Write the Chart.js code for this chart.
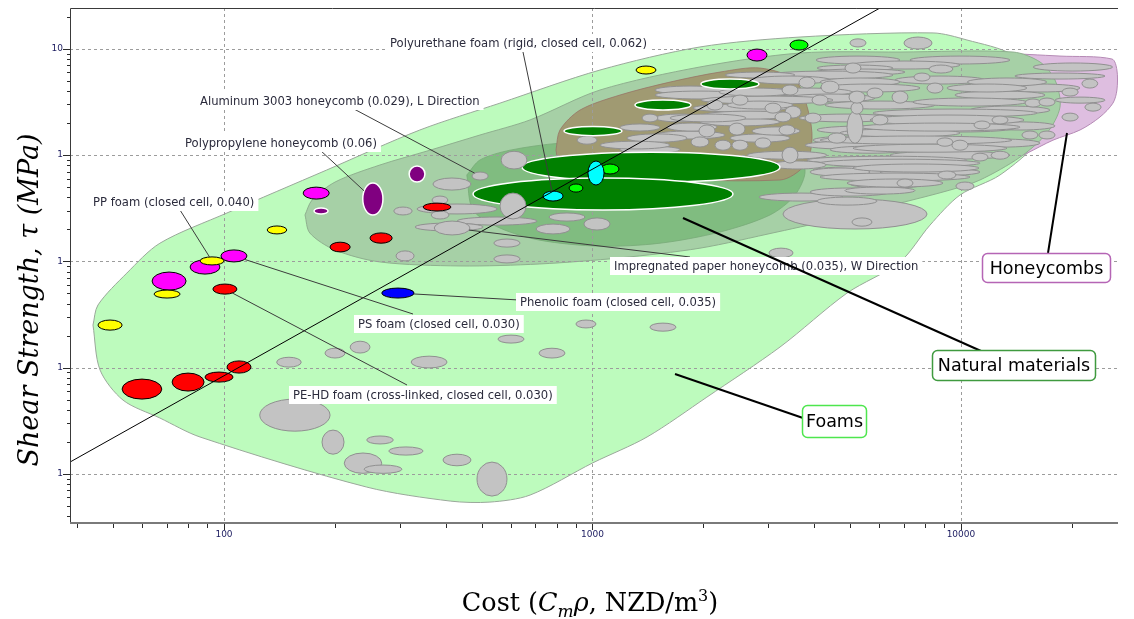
<!DOCTYPE html>
<html>
<head>
<meta charset="utf-8">
<title>Shear strength vs cost</title>
<script src="https://cdn.jsdelivr.net/npm/chart.js@4.4.1/dist/chart.umd.min.js"></script>
<style>
  html, body { margin: 0; padding: 0; background: #fff; }
  canvas { display: block; }
</style>
</head>
<body>
<canvas id="chart" width="1134" height="619"></canvas>
<script>
"use strict";

// axis ranges: cost (NZD/m3) and shear strength (MPa)
const costRange = [38.2, 26680];
const tauRange = [0.000352, 24.2];
const costTickValues = [100, 1000, 10000];
const costTickLabels = ["100", "1000", "10000"];
const tauTickValues = [10, 1, 0.1, 0.01, 0.001];
const tauTickLabels = ["10", "1", "1", "1", "1"];

// family envelopes, [cost, tau]
const foamsHull = [
  [44.1, 0.0251], [45.5, 0.0388], [54.5, 0.0775], [67.0, 0.148], [101.9, 0.285], [190, 0.723],
  [340, 1.72], [561, 3.08], [1048, 6.31], [1957, 10.4], [3658, 12.9], [8400, 14.1], [10380, 12.1],
  [13840, 8.73], [18920, 3.29], [16390, 1.38], [12760, 0.649], [9938, 0.42], [8241, 0.219],
  [6831, 0.0986], [4906, 0.0502], [3228, 0.0156], [2044, 0.00527], [1406, 0.00222], [1003, 0.00127],
  [677, 0.000631], [527, 0.000542], [411, 0.000554], [244, 0.00075], [86.1, 0.00222], [67.0, 0.00335],
  [53.2, 0.00494], [46.1, 0.00947]
];
const honeycombsHull = [
  [12760, 9.12], [18570, 8.54], [25690, 8.01], [26500, 6.31], [26500, 4.09], [25850, 3.08],
  [23840, 2.28], [21040, 1.72], [17770, 1.38], [15100, 1.04], [13170, 0.841], [10580, 0.723], [9938, 2.65]
];
const naturalHull = [
  [165.9, 0.273], [173.4, 0.377], [200.2, 0.557], [265, 0.806], [362, 1.11], [495, 1.543], [677, 2.14],
  [1048, 4.09], [1957, 6.74], [3658, 9.12], [6831, 9.32], [13840, 9.32], [16390, 7.51], [18000, 5.08],
  [18570, 2.83], [17120, 1.612], [14460, 0.954], [11260, 0.582], [9333, 0.468], [6831, 0.353],
  [4696, 0.2557], [3168, 0.1886], [1957, 0.1329], [1187, 0.1077], [720, 0.0944], [437, 0.0904],
  [265, 0.0986], [200, 0.128], [171, 0.1846]
];
const naturalCoreHull = [
  [456, 0.649], [495, 0.898], [597, 1.11], [816, 1.293], [1346, 1.38], [2218, 1.321], [3436, 1.11],
  [3774, 0.723], [3545, 0.42], [3032, 0.273], [2218, 0.1886], [1525, 0.148], [1048, 0.1387],
  [720, 0.158], [561, 0.2057], [474, 0.304]
];
const khakiHull = [
  [796, 1.11], [816, 1.72], [925, 2.65], [1187, 3.67], [1623, 4.86], [2218, 6.04], [2848, 6.59],
  [3545, 5.08], [3846, 2.65], [3943, 1.38], [3774, 0.806], [3228, 0.582], [1048, 0.649], [816, 0.806]
];

// tau ~ cost^2 guide line
const guideLine = [[38.2, 0.00129], [6029, 24.2]];

// bubbles, [costLow, costHigh, tauLow, tauHigh]
const grayFoams = [
  [220, 249, 0.0137, 0.0177], [188, 213, 0.0123, 0.0152], [139, 162, 0.0101, 0.0125],
  [322, 403, 0.00992, 0.0128], [554, 652, 0.0170, 0.0202], [716, 842, 0.0123, 0.0152],
  [902, 1022, 0.0236, 0.028], [1432, 1685, 0.0220, 0.0262], [125, 194, 0.00252, 0.00505],
  [184.5, 211.7, 0.00153, 0.00258], [244, 288, 0.00191, 0.00227], [280, 347, 0.0015, 0.00179],
  [212, 268, 0.00101, 0.00157], [240, 304, 0.00101, 0.00121], [393, 468, 0.00119, 0.00153],
  [486, 586, 0.000617, 0.00129], [3013, 3501, 0.108, 0.133]
];
const grayNatural = [
  [334, 551, 0.279, 0.346], [429, 707, 0.219, 0.261], [330, 505, 0.193, 0.229],
  [471, 521, 0.582, 0.692], [369, 468, 0.468, 0.608], [367, 405, 0.346, 0.411],
  [365, 408, 0.25, 0.2975], [289, 324, 0.273, 0.324], [372, 465, 0.177, 0.239],
  [703, 869, 0.181, 0.224], [948, 1116, 0.197, 0.256], [540, 636, 0.136, 0.162],
  [293, 328, 0.1008, 0.1253], [540, 636, 0.0965, 0.1148], [762, 954, 0.239, 0.285],
  [3289, 8089, 0.2013, 0.385], [2830, 4785, 0.369, 0.4385], [5061, 5734, 0.214, 0.256],
  [4068, 5916, 0.338, 0.402], [4998, 8040, 0.4895, 0.582], [6580, 7743, 0.499, 0.595]
];
const grayDense = [
  [4043, 6831, 7.19, 8.54], [7271, 13580, 7.19, 8.54], [4998, 9938, 6.45, 7.67], [4068, 6539, 6.17, 7.03],
  [4018, 7048, 5.66, 6.45], [14010, 24600, 5.19, 5.91], [2976, 6539, 5.19, 6.17], [2289, 3545, 5.31, 6.04],
  [2676, 4412, 4.66, 5.54], [6622, 11620, 4.66, 5.54], [4145, 6831, 4.46, 5.31], [4145, 7743, 3.92, 4.66],
  [12760, 21040, 3.92, 4.66], [1478, 2289, 3.75, 4.46], [2848, 5061, 3.59, 4.27], [1478, 2594, 3.37, 4.0],
  [9630, 16910, 3.37, 4.0], [3331, 5843, 3.15, 3.75], [1969, 4495, 3.02, 3.59],
  [4277, 8503, 2.71, 3.22], [18000, 24600, 3.08, 3.51], [1874, 3372, 2.54, 3.02], [10580, 17440, 2.43, 2.89],
  [3635, 6539, 2.05, 2.43], [1957, 3228, 1.88, 2.23], [11620, 18000, 1.72, 2.05], [1478, 2019, 2.05, 2.43],
  [4068, 7596, 1.58, 1.88], [7048, 14010, 1.647, 1.962], [1478, 2289, 1.416, 1.683], [4696, 9938, 1.478, 1.761],
  [2361, 3436, 1.321, 1.577], [3968, 6790, 1.265, 1.51], [9938, 16390, 1.186, 1.416], [3774, 6622, 1.136, 1.35],
  [1187, 1728, 1.04, 1.212], [4412, 7271, 1.04, 1.212], [6418, 13580, 0.914, 1.086],
  [3822, 10380, 0.823, 0.975], [3968, 10380, 0.663, 0.788], [6029, 11260, 0.635, 0.755], [3894, 5663, 0.635, 0.755],
  [3894, 6418, 0.411, 0.4895], [4845, 7502, 0.429, 0.5],
  [15700, 25800, 6.17, 7.35], [10400, 17100, 4.46, 5.31], [9160, 15100, 3.92, 4.66], [7409, 15106, 2.89, 3.44],
  [5770, 16080, 2.28, 2.71], [5663, 14830, 1.92, 2.38], [5320, 14460, 1.68, 2.0], [4145, 13750, 1.265, 1.51],
  [5093, 13330, 1.063, 1.265], [4145, 11260, 0.771, 0.914], [5093, 11190, 0.692, 0.823], [4145, 10580, 0.57, 0.677],
  [4906, 8936, 0.499, 0.595],
  [2205, 3501, 3.59, 4.27], [2317, 3501, 2.71, 3.22], [1994, 3635, 2.18, 2.59], [1623, 2610, 2.05, 2.43],
  [1593, 2177, 1.68, 2.0], [2710, 3658, 1.54, 1.84], [1240, 1805, 1.32, 1.58], [1048, 1623, 1.14, 1.35],
  [1187, 1525, 1.683, 1.962], [2626, 4330, 0.914, 1.086], [3032, 4304, 0.739, 0.879],
  [1363, 1505, 2.05, 2.43], [2391, 2643, 2.95, 3.67], [2939, 3248, 2.48, 3.08], [3331, 3681, 2.23, 2.89],
  [3774, 4171, 2.0, 2.48], [1945, 2150, 1.48, 1.92], [2346, 2594, 1.54, 2.0], [1851, 2070, 1.19, 1.48],
  [2150, 2376, 1.11, 1.38], [2391, 2643, 1.11, 1.38], [2761, 3051, 1.16, 1.45], [3269, 3612, 0.841, 1.186],
  [3208, 3545, 1.54, 1.92], [3128, 3458, 2.05, 2.54], [908, 1029, 1.265, 1.51], [2044, 2260, 2.65, 3.29],
  [3269, 3612, 3.67, 4.56], [3943, 4358, 2.95, 3.67], [8089, 8936, 3.83, 4.76], [9451, 10450, 1.11, 1.38],
  [5734, 6338, 1.92, 2.38],
  [4998, 5524, 10.4, 12.4], [7004, 8345, 9.94, 12.9], [4845, 5354, 5.91, 7.35], [8191, 9509, 5.91, 7.03],
  [7455, 8241, 4.97, 5.91], [21300, 23500, 4.27, 5.19], [18800, 20800, 3.59, 4.27], [21700, 24000, 2.59, 3.08],
  [18800, 20800, 2.09, 2.48], [14640, 16180, 1.416, 1.683], [16280, 18000, 1.416, 1.683],
  [12070, 13500, 0.914, 1.086], [10710, 11840, 0.879, 1.04], [9690, 10850, 0.468, 0.557],
  [6500, 7180, 3.08, 4.0], [4906, 5421, 1.29, 2.59], [5029, 5421, 2.43, 3.15], [4171, 4668, 3.83, 4.97],
  [5558, 6143, 3.44, 4.27], [14920, 16490, 2.83, 3.37], [16280, 18000, 2.89, 3.44], [12140, 13420, 1.96, 2.33],
  [10850, 11990, 1.76, 2.09], [8609, 9509, 1.21, 1.45], [8664, 9690, 0.595, 0.7075], [6705, 7409, 0.499, 0.595],
  [4358, 4876, 1.293, 1.612], [3635, 4018, 4.27, 5.42], [4968, 5489, 3.08, 4.0]
];
const naturalGreen = [
  [644, 3228, 0.557, 1.063], [474, 2406, 0.304, 0.608], [837, 1202, 1.52, 1.86],
  [1304, 1851, 2.65, 3.29], [1969, 2830, 4.18, 5.19]
];
const grayOverGreen = [[565, 664, 0.739, 1.086], [561, 660, 0.25, 0.4385]];
const purpleHoneycombs = [[238, 270, 0.273, 0.545], [318, 351, 0.557, 0.788], [175.5, 191.6, 0.279, 0.317]];
const magentaFoams = [
  [63.8, 78.9, 0.0536, 0.0792], [80.9, 97.5, 0.0758, 0.103], [98.1, 115.4, 0.0986, 0.128],
  [164, 193, 0.385, 0.499], [2626, 2976, 7.67, 9.94]
];
const yellowFoams = [
  [45.5, 52.9, 0.0225, 0.028], [86.1, 100, 0.0924, 0.110], [64.6, 76.0, 0.0451, 0.0536],
  [131, 148, 0.181, 0.215], [1313, 1487, 5.79, 6.88]
];
const redFoams = [
  [52.9, 67.8, 0.00505, 0.00779], [72.3, 88.3, 0.00601, 0.00887], [88.8, 105.8, 0.0073, 0.00907],
  [101.9, 118.4, 0.00887, 0.01155], [93.3, 108.4, 0.0491, 0.0611], [194, 220, 0.1226, 0.1513],
  [249, 286, 0.148, 0.185], [347, 413, 0.2975, 0.353]
];
const blueFoams = [[268, 328, 0.0451, 0.056]];
const limeFoams = [[864, 942, 0.448, 0.534], [1055, 1180, 0.663, 0.823], [3436, 3846, 9.73, 12.09]];
const cyanFoams = [[734, 832, 0.369, 0.458], [972, 1075, 0.522, 0.879]];

// draw order, bottom to top
const bubbleLayers = [
  { data: grayFoams, fill: "#c3c3c3", edge: "#909090", width: 1 },
  { data: grayNatural, fill: "#c3c3c3", edge: "#909090", width: 1 },
  { data: grayDense, fill: "#c3c3c3", edge: "#909090", width: 1 },
  { data: naturalGreen, fill: "#008000", edge: "#ffffff", width: 1.5 },
  { data: grayOverGreen, fill: "#c3c3c3", edge: "#909090", width: 1 },
  { data: purpleHoneycombs, fill: "#800080", edge: "#ffffff", width: 1.5 },
  { data: magentaFoams, fill: "#ff00ff", edge: "#000000", width: 1 },
  { data: yellowFoams, fill: "#ffff00", edge: "#000000", width: 1 },
  { data: redFoams, fill: "#ff0000", edge: "#000000", width: 1 },
  { data: blueFoams, fill: "#0000ff", edge: "#000000", width: 1 },
  { data: limeFoams, fill: "#00ff00", edge: "#000000", width: 1 },
  { data: cyanFoams, fill: "#00ffff", edge: "#000000", width: 1 }
];

const materialNotes = [
  { text: "Polyurethane foam (rigid, closed cell, 0.062)", left: 390, mid: 43, anchor: [523, 52], target: cyanFoams[0] },
  { text: "Aluminum 3003 honeycomb (0.029), L Direction", left: 200, mid: 101, anchor: [354, 109], target: grayNatural[3] },
  { text: "Polypropylene honeycomb (0.06)", left: 185, mid: 143, anchor: [320, 150], target: purpleHoneycombs[0] },
  { text: "PP foam (closed cell, 0.040)", left: 93, mid: 202, anchor: [180, 210], target: yellowFoams[1] },
  { text: "PS foam (closed cell, 0.030)", left: 358, mid: 324, anchor: [413, 314], target: magentaFoams[2] },
  { text: "Phenolic foam (closed cell, 0.035)", left: 520, mid: 302, anchor: [519, 300], target: blueFoams[0] },
  { text: "Impregnated paper honeycomb (0.035), W Direction", left: 614, mid: 266, anchor: [690, 257], target: grayNatural[8] },
  { text: "PE-HD foam (cross-linked, closed cell, 0.030)", left: 293, mid: 395, anchor: [407, 385], target: redFoams[4] }
];

const familyNotes = [
  { text: "Honeycombs", box: [982, 253, 128, 29], from: [1048, 253], to: [1067, 133], edge: "#b565b5" },
  { text: "Natural materials", box: [932, 350, 163, 30], from: [981, 351], to: [683, 218], edge: "#3f9a3f" },
  { text: "Foams", box: [802, 405, 64, 32], from: [803, 418], to: [675, 374], edge: "#4ee64e" }
];

const NOTE_FONT = '11.6px "DejaVu Sans"';
const FAMILY_FONT = '17.5px "DejaVu Sans"';
const TICK_FONT = '9px "DejaVu Sans"';

function decadeTicks(lo, hi) {
  const out = [];
  for (let e = Math.floor(Math.log10(lo)); e <= Math.ceil(Math.log10(hi)); e++) {
    for (let k = 1; k <= 9; k++) {
      const v = k * Math.pow(10, e);
      if (v >= lo && v <= hi) out.push({ value: v, major: k === 1 });
    }
  }
  return out;
}

function bubbleGeom(xs, ys, b) {
  const x0 = xs.getPixelForValue(b[0]), x1 = xs.getPixelForValue(b[1]);
  const y0 = ys.getPixelForValue(b[2]), y1 = ys.getPixelForValue(b[3]);
  return { cx: (x0 + x1) / 2, cy: (y0 + y1) / 2, rx: Math.abs(x1 - x0) / 2, ry: Math.abs(y1 - y0) / 2 };
}

function drawBubble(ctx, xs, ys, b, layer) {
  const g = bubbleGeom(xs, ys, b);
  ctx.beginPath();
  ctx.ellipse(g.cx, g.cy, g.rx, g.ry, 0, 0, Math.PI * 2);
  ctx.fillStyle = layer.fill;
  ctx.fill();
  ctx.lineWidth = layer.width;
  ctx.strokeStyle = layer.edge;
  ctx.stroke();
}

function drawGrid(ctx, area, xs, ys) {
  ctx.save();
  ctx.strokeStyle = "#9c9c9c";
  ctx.lineWidth = 1;
  ctx.setLineDash([3, 3]);
  costTickValues.forEach(v => {
    const px = Math.round(xs.getPixelForValue(v)) + 0.5;
    ctx.beginPath(); ctx.moveTo(px, area.top); ctx.lineTo(px, area.bottom); ctx.stroke();
  });
  tauTickValues.forEach(v => {
    const py = Math.round(ys.getPixelForValue(v)) + 0.5;
    ctx.beginPath(); ctx.moveTo(area.left, py); ctx.lineTo(area.right, py); ctx.stroke();
  });
  ctx.restore();
}

function drawAxes(ctx, area, xs, ys) {
  ctx.save();
  // frame
  ctx.strokeStyle = "#3a3a3a";
  ctx.lineWidth = 1;
  ctx.beginPath();
  ctx.moveTo(area.left + 0.5, area.bottom);
  ctx.lineTo(area.left + 0.5, area.top + 0.5);
  ctx.lineTo(area.right, area.top + 0.5);
  ctx.stroke();
  ctx.strokeStyle = "#7a7a7a";
  ctx.lineWidth = 2;
  ctx.beginPath();
  ctx.moveTo(area.left, area.bottom + 1);
  ctx.lineTo(area.right, area.bottom + 1);
  ctx.stroke();

  // tick marks
  ctx.lineWidth = 1;
  ctx.strokeStyle = "#2a2a2a";
  decadeTicks(costRange[0], costRange[1]).forEach(t => {
    const px = Math.round(xs.getPixelForValue(t.value)) + 0.5;
    ctx.beginPath(); ctx.moveTo(px, area.bottom + 2); ctx.lineTo(px, area.bottom + (t.major ? 8 : 6)); ctx.stroke();
  });
  decadeTicks(tauRange[0], tauRange[1]).forEach(t => {
    const py = Math.round(ys.getPixelForValue(t.value)) + 0.5;
    ctx.beginPath(); ctx.moveTo(area.left, py); ctx.lineTo(area.left - (t.major ? 7 : 3), py); ctx.stroke();
  });

  // tick labels
  ctx.font = TICK_FONT;
  ctx.fillStyle = "#1c1c60";
  ctx.textAlign = "center";
  ctx.textBaseline = "middle";
  costTickValues.forEach((v, i) => ctx.fillText(costTickLabels[i], xs.getPixelForValue(v), area.bottom + 13));
  ctx.textAlign = "right";
  tauTickValues.forEach((v, i) => ctx.fillText(tauTickLabels[i], area.left - 7, ys.getPixelForValue(v)));
  ctx.restore();
}

function drawTitles(ctx) {
  ctx.save();
  ctx.fillStyle = "#000";
  // y title
  ctx.translate(31, 300);
  ctx.rotate(-Math.PI / 2);
  ctx.font = 'italic 27px "DejaVu Serif"';
  ctx.textAlign = "center";
  ctx.textBaseline = "middle";
  ctx.fillText("Shear Strength, \u03c4 (MPa)", 0, 0);
  ctx.restore();

  // x title with sub/superscripts
  const parts = [
    { t: "Cost (", f: '25.5px "DejaVu Serif"', dy: 0 },
    { t: "C", f: 'italic 25.5px "DejaVu Serif"', dy: 0 },
    { t: "m", f: 'italic 17px "DejaVu Serif"', dy: 6 },
    { t: "\u03c1", f: 'italic 25.5px "DejaVu Serif"', dy: 0 },
    { t: ", NZD/m", f: '25.5px "DejaVu Serif"', dy: 0 },
    { t: "3", f: '16px "DejaVu Serif"', dy: -10 },
    { t: ")", f: '25.5px "DejaVu Serif"', dy: 0 }
  ];
  ctx.save();
  ctx.fillStyle = "#000";
  ctx.textBaseline = "alphabetic";
  let total = 0;
  parts.forEach(p => { ctx.font = p.f; p.w = ctx.measureText(p.t).width; total += p.w; });
  let x = 590 - total / 2;
  parts.forEach(p => { ctx.font = p.f; ctx.fillText(p.t, x, 611 + p.dy); x += p.w; });
  ctx.restore();
}

function drawNotes(ctx, xs, ys) {
  ctx.save();
  // leaders to the bubbles
  ctx.strokeStyle = "#3c3c3c";
  ctx.lineWidth = 1;
  materialNotes.forEach(n => {
    const g = bubbleGeom(xs, ys, n.target);
    const dx = n.anchor[0] - g.cx, dy = n.anchor[1] - g.cy;
    const t = 1 / Math.sqrt((dx / g.rx) ** 2 + (dy / g.ry) ** 2);
    ctx.beginPath();
    ctx.moveTo(n.anchor[0], n.anchor[1]);
    ctx.lineTo(g.cx + dx * t, g.cy + dy * t);
    ctx.stroke();
  });
  ctx.font = NOTE_FONT;
  ctx.textBaseline = "middle";
  materialNotes.forEach(n => {
    const w = ctx.measureText(n.text).width;
    ctx.fillStyle = "#ffffff";
    ctx.fillRect(n.left - 4, n.mid - 9, w + 8, 18);
    ctx.fillStyle = "#2b2b3c";
    ctx.fillText(n.text, n.left, n.mid + 0.5);
  });

  // family labels
  ctx.lineWidth = 2;
  ctx.strokeStyle = "#000";
  familyNotes.forEach(n => {
    ctx.beginPath(); ctx.moveTo(n.from[0], n.from[1]); ctx.lineTo(n.to[0], n.to[1]); ctx.stroke();
  });
  ctx.font = FAMILY_FONT;
  ctx.textAlign = "center";
  familyNotes.forEach(n => {
    const [bx, by, bw, bh] = n.box;
    ctx.beginPath();
    ctx.roundRect(bx + 0.5, by + 0.5, bw, bh, 5);
    ctx.fillStyle = "#ffffff";
    ctx.fill();
    ctx.lineWidth = 1.5;
    ctx.strokeStyle = n.edge;
    ctx.stroke();
    ctx.fillStyle = "#000";
    ctx.fillText(n.text, bx + bw / 2 + 0.5, by + bh / 2 + 1.5);
  });
  ctx.restore();
}

const chartSketch = {
  id: "chartSketch",
  afterDatasetDraw(chart, args) {
    if (chart.data.datasets[args.index].label !== "khaki") return;
    const { ctx, chartArea: a, scales: { x, y } } = chart;
    ctx.save();
    ctx.beginPath();
    ctx.rect(a.left, a.top, a.right - a.left, a.bottom - a.top);
    ctx.clip();
    drawGrid(ctx, a, x, y);
    bubbleLayers.forEach(layer => layer.data.forEach(b => drawBubble(ctx, x, y, b, layer)));
    ctx.restore();
  },
  afterDraw(chart) {
    const { ctx, chartArea: a, scales: { x, y } } = chart;
    drawNotes(ctx, x, y);
    drawAxes(ctx, a, x, y);
    drawTitles(ctx);
  }
};

function hullDataset(label, points, fill, edge, order) {
  return {
    label,
    data: points.concat([points[0]]).map(([x, y]) => ({ x, y })),
    showLine: true,
    fill: "shape",
    backgroundColor: fill,
    borderColor: edge,
    borderWidth: 1,
    pointRadius: 0,
    tension: 0.3,
    order
  };
}

new Chart(document.getElementById("chart"), {
  type: "scatter",
  data: {
    datasets: [
      hullDataset("foams", foamsHull, "rgb(189,251,189)", "#9aa89a", 5),
      hullDataset("honeycombs", honeycombsHull, "rgb(222,190,224)", "#b58ab5", 4),
      hullDataset("natural", naturalHull, "rgb(166,208,166)", "#8fb08f", 3),
      hullDataset("naturalCore", naturalCoreHull, "rgb(128,188,128)", "rgba(120,170,120,0.8)", 2),
      hullDataset("khaki", khakiHull, "rgb(160,154,114)", "rgba(150,110,100,0.7)", 1),
      {
        label: "guide",
        data: guideLine.map(([x, y]) => ({ x, y })),
        showLine: true,
        fill: false,
        borderColor: "#000",
        borderWidth: 1,
        pointRadius: 0,
        order: 0
      }
    ]
  },
  options: {
    responsive: false,
    animation: false,
    devicePixelRatio: 1,
    layout: { padding: { top: 8, right: 16, left: 0, bottom: 0 } },
    plugins: { legend: { display: false }, tooltip: { enabled: false } },
    scales: {
      x: {
        type: "logarithmic",
        min: costRange[0],
        max: costRange[1],
        grid: { display: false },
        border: { display: false },
        ticks: { display: false },
        afterFit: s => { s.height = 97; }
      },
      y: {
        type: "logarithmic",
        min: tauRange[0],
        max: tauRange[1],
        grid: { display: false },
        border: { display: false },
        ticks: { display: false },
        afterFit: s => { s.width = 70; }
      }
    }
  },
  plugins: [chartSketch]
});
</script>
</body>
</html>
